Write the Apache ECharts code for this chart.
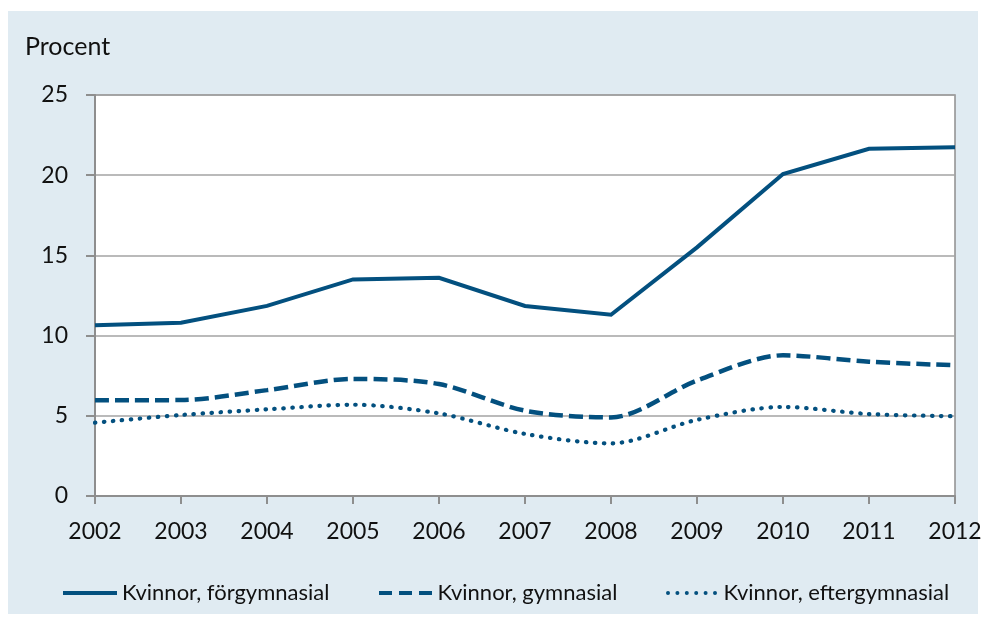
<!DOCTYPE html>
<html>
<head>
<meta charset="utf-8">
<script src="https://cdn.jsdelivr.net/npm/echarts@6/dist/echarts.min.js"></script>
<style>
  html, body { margin: 0; padding: 0; background: #ffffff; }
  #chart { width: 987px; height: 621px; }
</style>
</head>
<body>
<div id="chart"></div>
<script>
// Years on the x axis
var years = ['2002', '2003', '2004', '2005', '2006', '2007', '2008', '2009', '2010', '2011', '2012'];

// Share (procent) per education level
var forgymnasial   = [10.65, 10.8, 11.85, 13.5, 13.6, 11.85, 11.3, 15.5, 20.07, 21.65, 21.75];
var gymnasial      = [5.97, 5.98, 6.6, 7.3, 6.98, 5.32, 4.9, 7.2, 8.77, 8.37, 8.15];
var eftergymnasial = [4.57, 5.05, 5.4, 5.69, 5.15, 3.87, 3.28, 4.75, 5.55, 5.11, 4.97];

var seriesNames = ['Kvinnor, förgymnasial', 'Kvinnor, gymnasial', 'Kvinnor, eftergymnasial'];
var yTicks = [0, 5, 10, 15, 20, 25];

var lineColor = '#03507f';
var axisGrey = '#8e8e8e';
var fontFamily = 'Lato, "Open Sans", sans-serif';

// Legend icons drawn as paths: solid bar, three dashes, six dots
var iconSolid = 'path://M0,0 L54,0 L54,4 L0,4 Z';
var iconDashed = 'path://M0,0 L13,0 L13,4 L0,4 Z M20,0 L33,0 L33,4 L20,4 Z M40,0 L53,0 L53,4 L40,4 Z';
var iconDotted = (function () {
  var d = 'path://';
  for (var i = 0; i < 6; i++) {
    var cx = 2 + i * 9.4;
    d += 'M' + (cx - 2) + ',2 A2,2 0 1,0 ' + (cx + 2) + ',2 A2,2 0 1,0 ' + (cx - 2) + ',2 Z ';
  }
  return d;
})();

function legendAt(left, name, icon) {
  return {
    left: left,
    top: 577,
    itemWidth: 54,
    itemHeight: 4,
    icon: icon,
    itemStyle: { color: lineColor },
    textStyle: { fontFamily: fontFamily, fontSize: 22, color: '#111111' },
    data: [name]
  };
}

var chart = echarts.init(document.getElementById('chart'), null, { renderer: 'canvas' });

chart.setOption({
  backgroundColor: '#ffffff',
  animation: false,
  graphic: [{
    type: 'rect',
    z: -10,
    silent: true,
    shape: { x: 8, y: 11, width: 970, height: 603 },
    style: { fill: '#e0ebf2' }
  }],
  title: {
    text: 'Procent',
    left: 20,
    top: 29,
    textStyle: { fontFamily: fontFamily, fontSize: 25, fontWeight: 'normal', color: '#111111' }
  },
  legend: [
    legendAt(58, seriesNames[0], iconSolid),
    legendAt(374, seriesNames[1], iconDashed),
    legendAt(661, seriesNames[2], iconDotted)
  ],
  grid: {
    left: 95,
    right: 32,
    top: 95,
    bottom: 125,
    show: true,
    backgroundColor: '#ffffff',
    borderColor: axisGrey,
    borderWidth: 1.5
  },
  xAxis: {
    type: 'category',
    data: years,
    boundaryGap: false,
    axisLine: { lineStyle: { color: axisGrey, width: 2 } },
    axisTick: { show: true, length: 8, lineStyle: { color: axisGrey, width: 2 } },
    axisLabel: { fontFamily: fontFamily, fontSize: 23, color: '#111111', margin: 24 },
    splitLine: { show: false }
  },
  yAxis: {
    type: 'value',
    min: yTicks[0],
    max: yTicks[yTicks.length - 1],
    interval: 5,
    axisLine: { show: true, lineStyle: { color: axisGrey, width: 2 } },
    axisTick: { show: true, length: 9, lineStyle: { color: axisGrey, width: 2 } },
    axisLabel: { fontFamily: fontFamily, fontSize: 23, color: '#111111', margin: 27 },
    splitLine: { show: true, lineStyle: { color: '#a3a3a3', width: 1.5 } }
  },
  series: [
    {
      name: seriesNames[0],
      type: 'line',
      data: forgymnasial,
      symbol: 'none',
      lineStyle: { color: lineColor, width: 4, join: 'miter' },
      itemStyle: { color: lineColor }
    },
    {
      name: seriesNames[1],
      type: 'line',
      data: gymnasial,
      symbol: 'none',
      smooth: 0.3,
      lineStyle: { color: lineColor, width: 4.5, type: [14, 6] },
      itemStyle: { color: lineColor }
    },
    {
      name: seriesNames[2],
      type: 'line',
      data: eftergymnasial,
      symbol: 'none',
      smooth: 0.3,
      lineStyle: { color: lineColor, width: 4.2, type: [0.5, 8.5], cap: 'round' },
      itemStyle: { color: lineColor }
    }
  ]
});
</script>
</body>
</html>
